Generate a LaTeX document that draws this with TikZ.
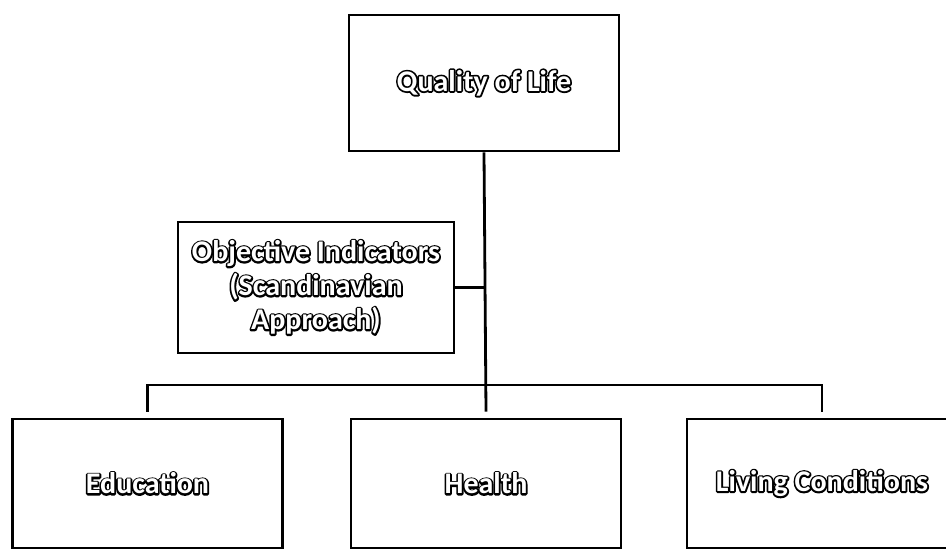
\documentclass[tikz,border=0pt]{standalone}
\usepackage{fontspec}
\setmainfont{Carlito}
\usetikzlibrary{positioning}
\tikzset{
  box/.style={draw, line width=2.6pt, fill=white, align=center,
    minimum width=270pt, minimum height=129pt, inner sep=0pt,
    text=white, font=\bfseries\fontsize{30}{34}\selectfont},
  conn/.style={line width=2.8pt}
}
% outlined lettering: black halo under white letters
\newcommand{\olword}[1]{\rlap{\special{pdf:literal direct 1 Tr 3.4 w 0 G 1 j}#1\special{pdf:literal direct 0 Tr 0 j}}#1}

\begin{document}
\begin{tikzpicture}[x=1pt,y=-1pt]
\useasboundingbox (0,0) rectangle (946,550);

% Top level
\node[box, minimum height=136pt] (qol) at (484,83) {\olword{Quality of Life}};
\node[box, minimum width=276pt, minimum height=131pt] (obj) at (316,287.5)
  {\olword{Objective Indicators}\\\olword{(Scandinavian}\\\olword{Approach)}};

% Domains
\node[box] (edu) at (147.5,483.5) {\olword{Education}};
\node[box] (health) at (486,483.5) {\olword{Health}};
\node[box] (living) at (822,483.5) {\olword{Living Conditions}};

% Connectors
\coordinate (bar) at (486,385);
\draw[conn] (qol.south) -- ([yshift=6pt]health.north);
\draw[conn] (obj.east) -- (obj.east -| bar);
\draw[conn] ([yshift=6pt]edu.north) |- (bar) -| ([yshift=6pt]living.north);

\end{tikzpicture}
\end{document}
